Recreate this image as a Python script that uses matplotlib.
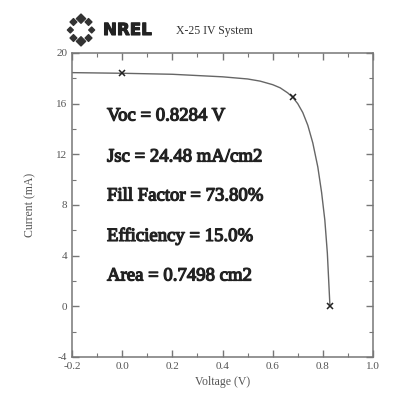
import numpy as np
import matplotlib
matplotlib.use("Agg")
import matplotlib.pyplot as plt
from matplotlib import patheffects as pe

plt.rcParams["axes.unicode_minus"] = False

voltage = [-0.2, 0.0, 0.2, 0.4, 0.5, 0.55, 0.6, 0.63, 0.66, 0.68, 0.70, 0.72, 0.74, 0.76,
           0.78, 0.795, 0.808, 0.818, 0.8284]
current = [18.45, 18.4, 18.32, 18.12, 17.95, 17.78, 17.5, 17.25, 16.85, 16.5, 16.0, 15.3, 14.3, 12.9,
           11.0, 9.0, 6.8, 4.2, 0.0]
marker_v = [0.0, 0.68, 0.8284]
marker_i = [18.4, 16.5, 0.0]
labels = ["Voc = 0.8284 V", "Jsc = 24.48 mA/cm2", "Fill Factor = 73.80%",
          "Efficiency = 15.0%", "Area = 0.7498 cm2"]
xticks = [-0.2, 0.0, 0.2, 0.4, 0.6, 0.8, 1.0]
xticklabels = ["-0.2", "0.0", "0.2", "0.4", "0.6", "0.8", "1.0"]
yticks = [-4, 0, 4, 8, 12, 16, 20]

serif = "Liberation Serif"
W, H = 403, 404
fig = plt.figure(figsize=(W / 100, H / 100), dpi=100)
ax = fig.add_axes([72 / W, (H - 357) / H, 301 / W, 304 / H])

ax.plot(voltage, current, color="#666666", lw=1.0)
ax.plot(marker_v, marker_i, ls="none", marker="x", color="#222222", ms=5, mew=1.1)

ax.set_xlim(-0.2, 1.0)
ax.set_ylim(-4, 20)
ax.set_xticks(xticks)
ax.set_xticklabels(xticklabels)
ax.set_yticks(yticks)
ax.set_xticks(np.arange(-0.1, 1.0, 0.2), minor=True)
ax.set_yticks(np.arange(-2, 20, 4), minor=True)
ax.tick_params(which="both", direction="in", top=True, right=True, colors="#777777",
               labelcolor="#555555", labelsize=8)
ax.tick_params(which="major", length=5, width=1)
ax.tick_params(which="minor", length=3, width=0.8)
for lab in ax.get_xticklabels() + ax.get_yticklabels():
    lab.set_fontfamily(serif)
for s in ax.spines.values():
    s.set_color("#777777")
    s.set_linewidth(1.1)

ax.set_xlabel("Voltage (V)", fontfamily=serif, fontsize=8.5, color="#555555", labelpad=4)
ax.set_ylabel("Current (mA)", fontfamily=serif, fontsize=8.5, color="#555555", labelpad=14)

bold_fx = [pe.withStroke(linewidth=0.9, foreground="#222222")]
ys = [116, 157, 196, 236, 276]
for t, yp in zip(labels, ys):
    fig.text(107 / W, 1 - yp / H, t, fontfamily=serif, fontsize=13.5,
             color="#222222", va="center", ha="left", path_effects=bold_fx)

# Logo
lax = fig.add_axes([65 / W, 1 - 47 / H, 32 / W, 34 / H])
lax.set_xlim(-1.5, 1.5)
lax.set_ylim(-1.5, 1.5)
lax.axis("off")
ang = np.deg2rad(np.arange(0, 360, 45) + 90)
sizes = [22, 12, 9, 12, 22, 12, 9, 12]
lax.scatter(np.cos(ang), np.sin(ang), marker="D", s=sizes, color="#333333")
fig.text(103 / W, 1 - 30 / H, "NREL", fontfamily="DejaVu Sans", fontweight="bold",
         fontsize=12, color="#222222", va="center", ha="left",
         path_effects=[pe.withStroke(linewidth=0.8, foreground="#222222")])
fig.text(176 / W, 1 - 31 / H, "X-25 IV System", fontfamily=serif, fontsize=8.5,
         color="#333333", va="center", ha="left")

fig.savefig("out.png", dpi=100)
